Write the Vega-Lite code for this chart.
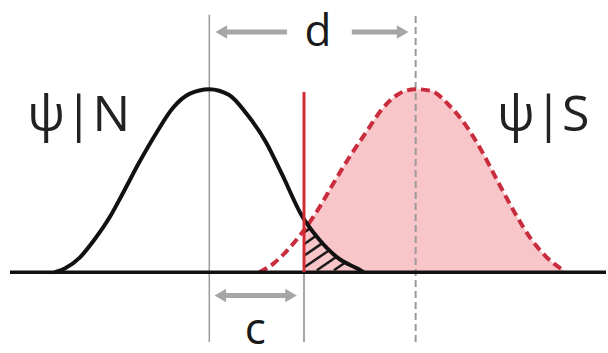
{
  "$schema": "https://vega.github.io/schema/vega-lite/v6.json",
  "width": 608,
  "height": 353,
  "padding": 0,
  "autosize": {"type": "fit", "contains": "padding"},
  "background": "white",
  "config": {"view": {"stroke": null}, "axis": {"disable": true}},
  "datasets": {
    "noise": [
      {"x": -3.1, "y": 0}, {"x": -2.9, "y": 0.02}, {"x": -2.6, "y": 0.08}, {"x": -2.3, "y": 0.18},
      {"x": -2.0, "y": 0.3}, {"x": -1.74, "y": 0.429}, {"x": -1.4, "y": 0.603}, {"x": -1.06, "y": 0.762},
      {"x": -0.74, "y": 0.894}, {"x": -0.4, "y": 0.974}, {"x": 0, "y": 1}, {"x": 0.4, "y": 0.968},
      {"x": 0.74, "y": 0.868}, {"x": 1.14, "y": 0.709}, {"x": 1.46, "y": 0.534}, {"x": 1.86, "y": 0.307},
      {"x": 2.2, "y": 0.18}, {"x": 2.6, "y": 0.074}, {"x": 3.0, "y": 0.016}, {"x": 3.1, "y": 0}
    ],
    "signal": [
      {"x": 1.0, "y": 0}, {"x": 1.3, "y": 0.05}, {"x": 1.6, "y": 0.13}, {"x": 1.9, "y": 0.23},
      {"x": 2.2, "y": 0.35}, {"x": 2.5, "y": 0.49}, {"x": 2.8, "y": 0.624}, {"x": 3.14, "y": 0.762},
      {"x": 3.46, "y": 0.889}, {"x": 3.8, "y": 0.974}, {"x": 4.14, "y": 1}, {"x": 4.46, "y": 0.99},
      {"x": 4.8, "y": 0.915}, {"x": 5.14, "y": 0.805}, {"x": 5.46, "y": 0.665}, {"x": 5.8, "y": 0.49},
      {"x": 6.14, "y": 0.32}, {"x": 6.46, "y": 0.18}, {"x": 6.8, "y": 0.074}, {"x": 7.14, "y": 0.005}
    ],
    "hit": [
      {"x": 1.9, "y": 0.23}, {"x": 2.2, "y": 0.35}, {"x": 2.5, "y": 0.49}, {"x": 2.8, "y": 0.624},
      {"x": 3.14, "y": 0.762}, {"x": 3.46, "y": 0.889}, {"x": 3.8, "y": 0.974}, {"x": 4.14, "y": 1},
      {"x": 4.46, "y": 0.99}, {"x": 4.8, "y": 0.915}, {"x": 5.14, "y": 0.805}, {"x": 5.46, "y": 0.665},
      {"x": 5.8, "y": 0.49}, {"x": 6.14, "y": 0.32}, {"x": 6.46, "y": 0.18}, {"x": 6.8, "y": 0.074},
      {"x": 7.14, "y": 0.005}
    ],
    "hatch": [
      {"x": 1.9, "y": 0.217, "x2": 2.03, "y2": 0.241},
      {"x": 1.9, "y": 0.153, "x2": 2.15, "y2": 0.201},
      {"x": 1.9, "y": 0.09, "x2": 2.27, "y2": 0.159},
      {"x": 1.9, "y": 0.026, "x2": 2.4, "y2": 0.119},
      {"x": 2.158, "y": 0.011, "x2": 2.554, "y2": 0.085},
      {"x": 2.5, "y": 0.011, "x2": 2.73, "y2": 0.053}
    ],
    "meanN": [{"x": 0, "y": -0.381, "y2": 1.407}],
    "meanS": [{"x": 4.14, "y": -0.381, "y2": 1.407}],
    "critBelow": [{"x": 1.9, "y": -0.381, "y2": 0}],
    "crit": [{"x": 1.9, "y": 0, "y2": 0.984}],
    "base": [{"x": -4.0, "x2": 7.96, "y": 0}],
    "shafts": [
      {"x": 0.3, "x2": 1.56, "y": 1.312},
      {"x": 2.86, "x2": 3.82, "y": 1.312},
      {"x": 0.26, "x2": 1.6, "y": -0.127}
    ],
    "headsL": [{"x": 0.24, "y": 1.312}, {"x": 0.22, "y": -0.127}],
    "headsR": [{"x": 3.88, "y": 1.312}, {"x": 1.64, "y": -0.127}],
    "labels": [
      {"x": -2.62, "y": 0.77, "text": "ψ|N"},
      {"x": 6.7, "y": 0.77, "text": "ψ|S"}
    ],
    "letters": [
      {"x": 2.18, "y": 1.238, "text": "d"},
      {"x": 0.92, "y": -0.39, "text": "c"}
    ]
  },
  "layer": [
    {
      "data": {"name": "hit"},
      "mark": {"type": "area", "color": "#f8c5c9", "interpolate": "monotone"},
      "encoding": {
        "x": {"field": "x", "type": "quantitative", "scale": {"domain": [-4.2, 7.96], "nice": false, "zero": false}},
        "y": {"field": "y", "type": "quantitative", "scale": {"domain": [-0.381, 1.487], "nice": false, "zero": false}}
      }
    },
    {
      "data": {"name": "meanN"},
      "mark": {"type": "rule", "color": "#9a9a9a", "strokeWidth": 1.5},
      "encoding": {"x": {"field": "x", "type": "quantitative"}, "y": {"field": "y", "type": "quantitative"}, "y2": {"field": "y2"}}
    },
    {
      "data": {"name": "meanS"},
      "mark": {"type": "rule", "color": "#9a9a9a", "strokeWidth": 2, "strokeDash": [7, 4]},
      "encoding": {"x": {"field": "x", "type": "quantitative"}, "y": {"field": "y", "type": "quantitative"}, "y2": {"field": "y2"}}
    },
    {
      "data": {"name": "critBelow"},
      "mark": {"type": "rule", "color": "#8a8a8a", "strokeWidth": 1.5},
      "encoding": {"x": {"field": "x", "type": "quantitative"}, "y": {"field": "y", "type": "quantitative"}, "y2": {"field": "y2"}}
    },
    {
      "data": {"name": "hatch"},
      "mark": {"type": "rule", "color": "#1a1a1a", "strokeWidth": 2.5},
      "encoding": {"x": {"field": "x", "type": "quantitative"}, "y": {"field": "y", "type": "quantitative"}, "x2": {"field": "x2"}, "y2": {"field": "y2"}}
    },
    {
      "data": {"name": "signal"},
      "mark": {"type": "line", "color": "#c92c3c", "strokeWidth": 4, "strokeDash": [9, 5], "interpolate": "monotone"},
      "encoding": {"x": {"field": "x", "type": "quantitative"}, "y": {"field": "y", "type": "quantitative"}}
    },
    {
      "data": {"name": "noise"},
      "mark": {"type": "line", "color": "#111111", "strokeWidth": 4, "interpolate": "monotone"},
      "encoding": {"x": {"field": "x", "type": "quantitative"}, "y": {"field": "y", "type": "quantitative"}}
    },
    {
      "data": {"name": "base"},
      "mark": {"type": "rule", "color": "#111111", "strokeWidth": 3.5},
      "encoding": {"x": {"field": "x", "type": "quantitative"}, "x2": {"field": "x2"}, "y": {"field": "y", "type": "quantitative"}}
    },
    {
      "data": {"name": "crit"},
      "mark": {"type": "rule", "color": "#d42a32", "strokeWidth": 3},
      "encoding": {"x": {"field": "x", "type": "quantitative"}, "y": {"field": "y", "type": "quantitative"}, "y2": {"field": "y2"}}
    },
    {
      "data": {"name": "shafts"},
      "mark": {"type": "rule", "color": "#a6a6a6", "strokeWidth": 5},
      "encoding": {"x": {"field": "x", "type": "quantitative"}, "x2": {"field": "x2"}, "y": {"field": "y", "type": "quantitative"}}
    },
    {
      "data": {"name": "headsL"},
      "mark": {"type": "point", "shape": "triangle-left", "filled": true, "color": "#a6a6a6", "opacity": 1, "size": 180},
      "encoding": {"x": {"field": "x", "type": "quantitative"}, "y": {"field": "y", "type": "quantitative"}}
    },
    {
      "data": {"name": "headsR"},
      "mark": {"type": "point", "shape": "triangle-right", "filled": true, "color": "#a6a6a6", "opacity": 1, "size": 180},
      "encoding": {"x": {"field": "x", "type": "quantitative"}, "y": {"field": "y", "type": "quantitative"}}
    },
    {
      "data": {"name": "labels"},
      "mark": {"type": "text", "font": "Open Sans", "fontSize": 50, "color": "#222222", "align": "center", "baseline": "alphabetic"},
      "encoding": {"x": {"field": "x", "type": "quantitative"}, "y": {"field": "y", "type": "quantitative"}, "text": {"field": "text"}}
    },
    {
      "data": {"name": "letters"},
      "mark": {"type": "text", "font": "Open Sans", "fontSize": 44, "color": "#1a1a1a", "align": "center", "baseline": "alphabetic"},
      "encoding": {"x": {"field": "x", "type": "quantitative"}, "y": {"field": "y", "type": "quantitative"}, "text": {"field": "text"}}
    }
  ]
}
